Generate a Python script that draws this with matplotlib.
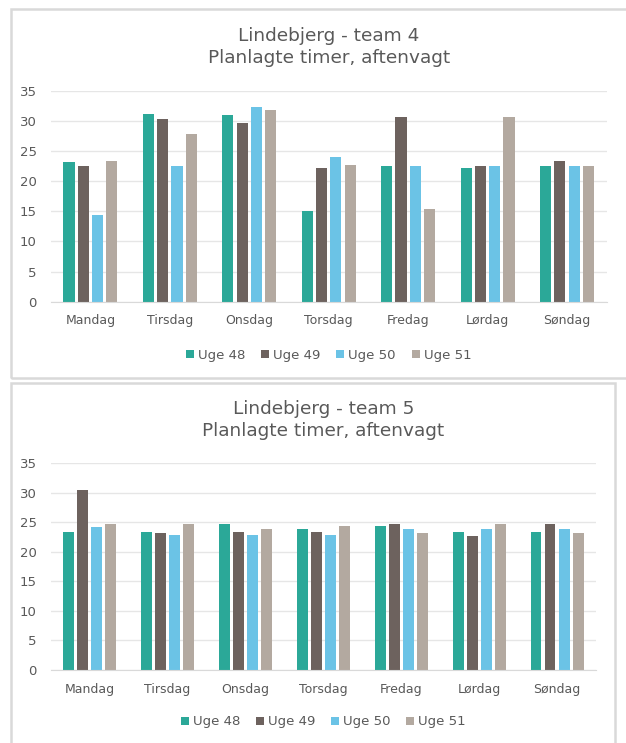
import matplotlib
matplotlib.use("Agg")
import matplotlib.pyplot as plt
from matplotlib.patches import Rectangle, Patch
import numpy as np

plt.rcParams['font.family'] = ['DejaVu Sans']

days = ["Mandag", "Tirsdag", "Onsdag", "Torsdag", "Fredag", "Lørdag", "Søndag"]
weeks = ["Uge 48", "Uge 49", "Uge 50", "Uge 51"]

# Team 4, planned evening hours per weekday
team4_uge48 = [23.1, 31.2, 30.9, 15.0, 22.5, 22.2, 22.5]
team4_uge49 = [22.5, 30.3, 29.7, 22.2, 30.6, 22.5, 23.4]
team4_uge50 = [14.4, 22.5, 32.3, 24.0, 22.5, 22.5, 22.5]
team4_uge51 = [23.4, 27.9, 31.8, 22.6, 15.3, 30.6, 22.5]

# Team 5, planned evening hours per weekday
team5_uge48 = [23.4, 23.4, 24.7, 23.8, 24.4, 23.4, 23.4]
team5_uge49 = [30.5, 23.2, 23.4, 23.4, 24.7, 22.7, 24.7]
team5_uge50 = [24.2, 22.9, 22.9, 22.9, 23.8, 23.8, 23.8]
team5_uge51 = [24.7, 24.7, 23.8, 24.4, 23.2, 24.7, 23.2]

colors = ["#2ba898", "#6d625e", "#6bc3e6", "#b3a9a0"]
text_col = "#595959"

W, H = 626, 743
fig = plt.figure(figsize=(W / 100, H / 100), dpi=100)


def px_box(x0, y0, x1, y1):
    # convert pixel box (top-left origin) to figure fraction rect
    return [x0 / W, 1 - y1 / H, (x1 - x0) / W, (y1 - y0) / H]


def draw_chart(ax, series, title_y, title):
    x = np.arange(len(days))
    step = 0.18
    width = 0.14
    for i, vals in enumerate(series):
        ax.bar(x + (i - 1.5) * step, vals, width=width, color=colors[i], zorder=3)
    ax.set_xlim(-0.5, len(days) - 0.5)
    ax.set_ylim(0, 35)
    ax.set_yticks(range(0, 36, 5))
    ax.set_xticks(x)
    ax.set_xticklabels(days)
    ax.tick_params(axis='both', length=0, colors=text_col, labelsize=9)
    ax.tick_params(axis='x', pad=9)
    ax.tick_params(axis='y', pad=10, labelsize=9.5)
    ax.grid(axis='y', color="#e6e6e6", linewidth=1, zorder=0)
    for s in ["top", "right", "left"]:
        ax.spines[s].set_visible(False)
    ax.spines["bottom"].set_color("#d9d9d9")
    ax.spines["bottom"].set_zorder(4)
    fig.text(ax.get_position().x0 + ax.get_position().width / 2, 1 - title_y / H,
             title, ha='center', va='center', fontsize=13.3, color=text_col,
             linespacing=1.35)


# outer frames
fig.patches.append(Rectangle((11 / W, 1 - 378 / H), 1.0, (378 - 9) / H,
                             transform=fig.transFigure, fill=False,
                             edgecolor="#d9d9d9", linewidth=1.8))
fig.patches.append(Rectangle((11 / W, -0.05), (615 - 11) / W, 0.05 + (743 - 383) / H,
                             transform=fig.transFigure, fill=False,
                             edgecolor="#d9d9d9", linewidth=1.8))

ax1 = fig.add_axes(px_box(50.7, 90.7, 606.7, 301.7))
draw_chart(ax1, [team4_uge48, team4_uge49, team4_uge50, team4_uge51], 47,
           "Lindebjerg - team 4\nPlanlagte timer, aftenvagt")

ax2 = fig.add_axes(px_box(50.7, 463.3, 596, 670))
draw_chart(ax2, [team5_uge48, team5_uge49, team5_uge50, team5_uge51], 420,
           "Lindebjerg - team 5\nPlanlagte timer, aftenvagt")

handles = [Patch(facecolor=c, edgecolor='none') for c in colors]
for ax, ly in [(ax1, 355), (ax2, 722)]:
    pos = ax.get_position()
    fig.legend(handles, weeks, loc='center', ncol=4, frameon=False,
               bbox_to_anchor=(pos.x0 + pos.width / 2, 1 - ly / H),
               handlelength=0.6, handleheight=0.6, handletextpad=0.3,
               columnspacing=1.2, fontsize=9.5, labelcolor=text_col)

fig.savefig("out.png", dpi=100, facecolor="white")
